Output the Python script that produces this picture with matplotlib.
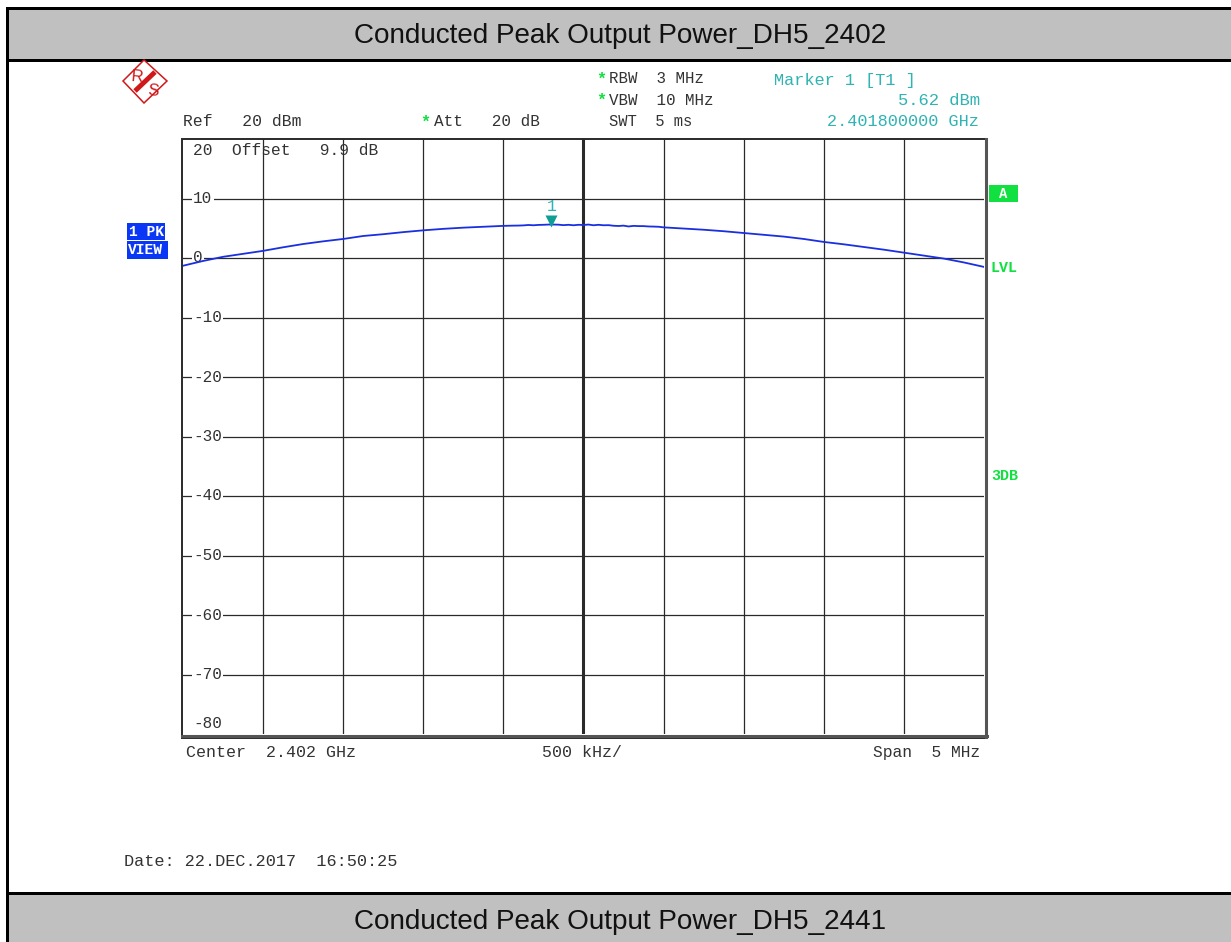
import matplotlib
matplotlib.use('Agg')
import matplotlib.pyplot as plt
from matplotlib.patches import Rectangle, Polygon
from matplotlib.transforms import ScaledTranslation

W, H = 1231, 942
MONO = 'Liberation Mono'
TEAL = '#2fb3b3'
GREEN = '#10e040'
BLUE = '#0a37f5'
GREY = '#c0c0c0'
GRID = '#2a2a2a'

# trace: coarse on the skirts, finer around the rippled top
freq_left = [2.399500, 2.399625, 2.399750, 2.399875, 2.400000, 2.400125, 2.400250,
             2.400375, 2.400500, 2.400625, 2.400750, 2.400875, 2.401000, 2.401125,
             2.401250, 2.401375]
level_left = [-1.3, -0.5, 0.2, 0.7, 1.2, 1.8, 2.35, 2.8, 3.2, 3.7, 4.0, 4.35, 4.65,
              4.9, 5.1, 5.25]

freq_top = [2.40150000, 2.40153125, 2.40156250, 2.40159375, 2.40162500, 2.40165625,
            2.40168750, 2.40171875, 2.40175000, 2.40178125, 2.40181250, 2.40184375,
            2.40187500, 2.40190625, 2.40193750, 2.40196875, 2.40200000, 2.40203125,
            2.40206250, 2.40209375, 2.40212500, 2.40215625, 2.40218750, 2.40221875,
            2.40225000, 2.40228125, 2.40231250, 2.40234375, 2.40237500, 2.40240625,
            2.40243750, 2.40246875, 2.40250000]
level_top = [5.40, 5.42, 5.44, 5.45, 5.48, 5.55, 5.50, 5.56, 5.58, 5.62, 5.62, 5.60,
             5.52, 5.58, 5.50, 5.58, 5.55, 5.62, 5.50, 5.58, 5.50, 5.52, 5.42, 5.38,
             5.44, 5.30, 5.40, 5.36, 5.36, 5.30, 5.28, 5.25, 5.15]

freq_right = [2.402625, 2.402750, 2.402875, 2.403000, 2.403125, 2.403250, 2.403375,
              2.403500, 2.403625, 2.403750, 2.403875, 2.404000, 2.404125, 2.404250,
              2.404375, 2.404500]
level_right = [4.95, 4.75, 4.5, 4.2, 3.9, 3.6, 3.2, 2.7, 2.3, 1.85, 1.4, 0.9, 0.4,
               -0.1, -0.75, -1.5]

marker_freq = 2.4018
marker_level = 5.62

y_ticks = [10, 0, -10, -20, -30, -40, -50, -60, -70]
y_labels = ['10', '0', '-10', '-20', '-30', '-40', '-50', '-60', '-70']
x_ticks = [2.4000, 2.4005, 2.4010, 2.4015, 2.4020, 2.4025, 2.4030, 2.4035, 2.4040]

fig = plt.figure(figsize=(W / 100, H / 100), dpi=100, facecolor='white')

# page furniture in pixel coordinates
bg = fig.add_axes([0, 0, 1, 1], zorder=0)
bg.set_xlim(0, W)
bg.set_ylim(H, 0)
bg.axis('off')

bg.add_patch(Rectangle((6, 7), W - 6, 55, fc='black', ec='none'))
bg.add_patch(Rectangle((9, 10), W - 9, 49, fc=GREY, ec='none'))
bg.add_patch(Rectangle((6, 7), 3, H - 7, fc='black', ec='none'))
bg.add_patch(Rectangle((9, 892), W - 9, 2.5, fc='black', ec='none'))
bg.add_patch(Rectangle((9, 894.5), W - 9, H - 894.5, fc=GREY, ec='none'))

bg.text(620.5, 36, 'Conducted Peak Output Power_DH5_2402', family='Liberation Sans',
        fontsize=20.1, ha='center', va='center', color='#111111')
bg.text(620, 922, 'Conducted Peak Output Power_DH5_2441', family='Liberation Sans',
        fontsize=20.1, ha='center', va='center', color='#111111')


def label(x, y, s, color='#333333', ha='left', size=12, weight='normal'):
    bg.text(x, y, s, family=MONO, fontsize=size, color=color, ha=ha, va='center', fontweight=weight)


label(183, 121, 'Ref   20 dBm', size=11.8)
label(434, 121, 'Att   20 dB', size=11.5)
label(609, 78.5, 'RBW  3 MHz', size=11.3)
label(609, 100.5, 'VBW  10 MHz', size=11.4)
label(609, 121.5, 'SWT  5 ms', size=11.2)
label(774, 80, 'Marker 1 [T1 ]', color=TEAL, size=12.2)
label(980, 100.5, '5.62 dBm', color=TEAL, ha='right', size=12.3)
label(979, 121.5, '2.401800000 GHz', color=TEAL, ha='right', size=12.2)
label(186, 752.6, 'Center  2.402 GHz')
label(542, 752.6, '500 kHz/')
label(980, 752, 'Span  5 MHz', ha='right', size=11.7)
label(124, 862, 'Date: 22.DEC.2017  16:50:25', size=12.2)
for sx, sy in [(601, 79), (601, 100), (425, 122)]:
    label(sx, sy, '*', color=GREEN, ha='center', weight='bold')

# status badges
bg.add_patch(Rectangle((127, 223), 38, 17, fc=BLUE, ec='none'))
bg.add_patch(Rectangle((127, 241), 41, 18, fc=BLUE, ec='none'))
label(129, 232, '1 PK', color='white', size=10.5, weight='bold')
label(128, 250.5, 'VIEW', color='white', size=10.5, weight='bold')
bg.add_patch(Rectangle((989, 185), 29, 17, fc=GREEN, ec='none'))
label(1003.5, 194, 'A', color='white', ha='center', size=10, weight='bold')
label(991, 268.5, 'LVL', color=GREEN, size=10.8, weight='bold')
label(991, 475.5, '3DB', color=GREEN, size=10.8, weight='bold')

# R&S logo
LOGO = '#d01818'
bg.add_patch(Polygon([(144, 60), (167, 81), (144, 103), (123, 81)], closed=True,
                     fc='white', ec=LOGO, lw=1.1, zorder=5))
bg.plot([135, 155], [91, 72], color=LOGO, lw=3.5, solid_capstyle='butt', zorder=6)
bg.text(136.5, 77, 'R', family='Liberation Sans', fontsize=12, color=LOGO, ha='center',
        va='center', rotation=-5, zorder=6)
bg.text(153, 91, 'S', family='Liberation Sans', fontsize=12, color=LOGO, ha='center',
        va='center', rotation=-5, zorder=6)

# screen frame, double on the right and bottom
bg.add_patch(Rectangle((181.5, 138.5), 805.5, 599, fc='none', ec=GRID, lw=1.4))
bg.plot([985.5, 985.5], [139, 737], color='#555555', lw=2.2)
bg.plot([182, 987], [736, 736], color='#555555', lw=2.2)

# the trace display
ax = fig.add_axes([183 / W, 1 - 734 / H, (984 - 183) / W, (734 - 139) / H], zorder=1)
ax.patch.set_alpha(0)
ax.set_xlim(2.3995, 2.4045)
ax.set_ylim(-80, 20)
ax.set_xticks([])
ax.set_yticks([])
for sp in ax.spines.values():
    sp.set_visible(False)

for v in y_ticks:
    ax.axhline(v, color=GRID, lw=0.9, zorder=1)
for v in x_ticks:
    ax.axvline(v, color=GRID, lw=2.2 if v == 2.4020 else 0.9, zorder=1)

ytrans = ax.get_yaxis_transform()
for v, s in zip(y_ticks, y_labels):
    ax.text(10 / 801, v, s, transform=ytrans, family=MONO, fontsize=11.5, color='#333333',
            ha='left', va='center', zorder=2,
            bbox=dict(fc='white', ec='none', pad=1))
ax.text(10 / 801, -78.3, '-80', transform=ytrans, family=MONO, fontsize=11.5, color='#333333',
        ha='left', va='center', zorder=2)
ax.text(10 / 801, 18.0, '20  Offset   9.9 dB', transform=ytrans, family=MONO, fontsize=11.7,
        color='#333333', ha='left', va='center', zorder=2)

freq_ghz = freq_left + freq_top + freq_right
level_dbm = level_left + level_top + level_right
ax.plot(freq_ghz, level_dbm, color='#1a2fe0', lw=1.3, zorder=3)

shift = ScaledTranslation(0, 4.0 / 100, fig.dpi_scale_trans)
ax.plot([marker_freq], [marker_level], 'v', color='#0e9e96', ms=8, mec='none',
        transform=ax.transData + shift, zorder=4)
ax.annotate('1', (marker_freq, marker_level), xytext=(0, 13), textcoords='offset points',
            family=MONO, fontsize=12, color=TEAL, ha='center', va='center', zorder=4)

fig.savefig('out.png', dpi=100)
